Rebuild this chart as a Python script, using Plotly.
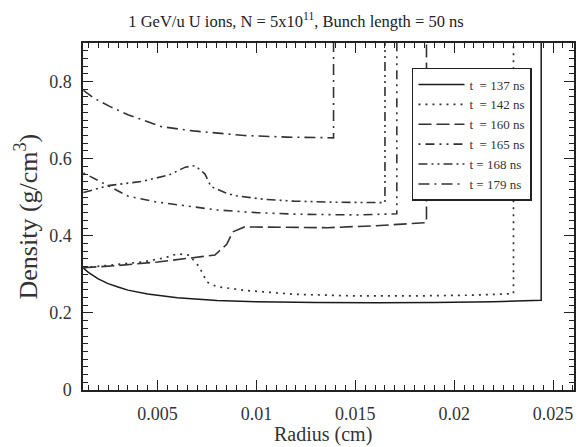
import plotly.graph_objects as go

# ---------------- data ----------------
NB = "\u00a0"
labels = [f"t{NB}{NB}={NB}137{NB}ns", f"t{NB}{NB}={NB}142{NB}ns", f"t{NB}{NB}={NB}160{NB}ns",
          f"t{NB}{NB}={NB}165{NB}ns", f"t{NB}={NB}168{NB}ns", f"t{NB}={NB}179{NB}ns"]

r_137 = [0.00125, 0.0015, 0.002, 0.0025, 0.003, 0.0035, 0.0045, 0.006, 0.008, 0.010, 0.013, 0.016, 0.019, 0.022, 0.0244, 0.0244]
d_137 = [0.316, 0.305, 0.288, 0.276, 0.267, 0.259, 0.249, 0.239, 0.232, 0.229, 0.227, 0.226, 0.227, 0.229, 0.233, 1.0]

r_142 = [0.00125, 0.003, 0.0042, 0.0053, 0.006, 0.0066, 0.0071, 0.0075, 0.008, 0.0089, 0.0095, 0.012, 0.015, 0.018, 0.021, 0.0230, 0.0230]
d_142 = [0.317, 0.325, 0.332, 0.342, 0.353, 0.350, 0.320, 0.280, 0.268, 0.262, 0.258, 0.248, 0.244, 0.244, 0.246, 0.250, 1.0]

r_160 = [0.00125, 0.003, 0.005, 0.0068, 0.0079, 0.0085, 0.0088, 0.0094, 0.011, 0.0136, 0.0160, 0.0176, 0.0186, 0.0186]
d_160 = [0.317, 0.323, 0.332, 0.343, 0.350, 0.378, 0.410, 0.423, 0.422, 0.421, 0.426, 0.431, 0.434, 1.0]

r_165 = [0.00125, 0.0022, 0.0035, 0.0049, 0.0064, 0.008, 0.010, 0.012, 0.015, 0.0171, 0.0171]
d_165 = [0.563, 0.538, 0.503, 0.488, 0.478, 0.467, 0.460, 0.456, 0.454, 0.457, 1.0]

r_168 = [0.00125, 0.0025, 0.0042, 0.0056, 0.0064, 0.0069, 0.0074, 0.0077, 0.0084, 0.0089, 0.0105, 0.0119, 0.0140, 0.0165, 0.0165]
d_168 = [0.512, 0.530, 0.541, 0.558, 0.578, 0.582, 0.560, 0.528, 0.512, 0.504, 0.494, 0.490, 0.487, 0.486, 1.0]

r_179 = [0.00125, 0.00175, 0.0026, 0.0035, 0.0052, 0.0068, 0.0094, 0.0115, 0.0139, 0.0139]
d_179 = [0.777, 0.758, 0.735, 0.714, 0.683, 0.672, 0.660, 0.656, 0.654, 1.0]

x_tickvals = [0.005, 0.01, 0.015, 0.02, 0.025]
x_ticktext = ["0.005", "0.01", "0.015", "0.02", "0.025"]
y_tickvals = [0, 0.2, 0.4, 0.6, 0.8]
y_ticktext = ["0", "0.2", "0.4", "0.6", "0.8"]

series = [
    (r_137, d_137, labels[0], "solid", "#1a1a1a", 1.5),
    (r_142, d_142, labels[1], "2px,5px", "#333333", 1.7),
    (r_160, d_160, labels[2], "13px,5px", "#333333", 1.6),
    (r_165, d_165, labels[3], "2px,5px,9px,5px,2px,5px", "#333333", 1.6),
    (r_168, d_168, labels[4], "9px,4px,2px,4px,2px,4px", "#333333", 1.6),
    (r_179, d_179, labels[5], "11px,5px,2px,5px", "#333333", 1.6),
]

FONT = "Liberation Serif"

fig = go.Figure()
for r, d, name, dash, col, w in series:
    fig.add_trace(go.Scatter(x=r, y=d, mode="lines", name=name,
                             line=dict(color=col, width=w, dash=dash)))

axis_common = dict(
    showline=True, linecolor="#222", linewidth=1.5, mirror="allticks",
    ticks="inside", ticklen=10, tickwidth=1.3, tickcolor="#222",
    showgrid=False, zeroline=False, automargin=False,
    tickfont=dict(family=FONT, size=18, color="#333"),
)

fig.update_xaxes(**axis_common, range=[0.00123, 0.02606],
                 tickmode="array", tickvals=x_tickvals, ticktext=x_ticktext,
                 minor=dict(ticks="inside", ticklen=5, tickwidth=1.1, tickcolor="#222",
                            tick0=0, dtick=0.0005, showgrid=False),
                 ticklabelstandoff=7)
fig.update_yaxes(**axis_common, range=[0, 0.9],
                 tickmode="array", tickvals=y_tickvals, ticktext=y_ticktext,
                 minor=dict(ticks="inside", ticklen=5, tickwidth=1.1, tickcolor="#222",
                            tick0=0, dtick=0.02, showgrid=False),
                 ticklabelstandoff=6)

# axis titles as annotations (pixel-exact placement)
fig.add_annotation(text="Radius (cm)", xref="paper", yref="paper", x=0.488, y=0,
                   yshift=-44, xanchor="center", yanchor="middle", showarrow=False,
                   font=dict(family=FONT, size=20, color="#333"))
fig.add_annotation(text="Density (g/cm<sup>3</sup>)", xref="paper", yref="paper", x=0, y=0.5,
                   xshift=-56, xanchor="center", yanchor="middle", textangle=-90, showarrow=False,
                   font=dict(family=FONT, size=26, color="#333"))

fig.update_layout(
    width=585, height=447,
    margin=dict(l=83, r=11, t=43, b=57, autoexpand=False),
    paper_bgcolor="white", plot_bgcolor="white",
    title=dict(text="1 GeV/u U ions, N = 5x10<sup>11</sup>, Bunch length = 50 ns",
               x=0.506, xanchor="center", xref="container",
               y=0.952, yanchor="middle", yref="container",
               font=dict(family=FONT, size=16.5, color="#222")),
    legend=dict(x=0.67, y=0.928, xanchor="left", yanchor="top",
                bgcolor="white", bordercolor="#222", borderwidth=1.5,
                font=dict(family=FONT, size=13, color="#333"),
                tracegroupgap=0, itemwidth=46),
    showlegend=True,
)

fig.write_html("out.html", config={"displayModeBar": False},
               post_script="document.body.style.margin='0';document.body.style.padding='0';")
